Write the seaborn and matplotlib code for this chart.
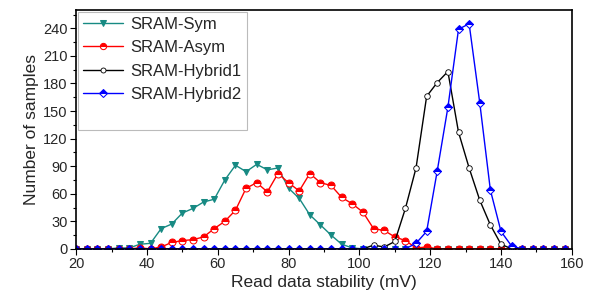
import numpy as np
import pandas as pd
import matplotlib
matplotlib.use("Agg")
import matplotlib.pyplot as plt
from matplotlib.lines import Line2D
import seaborn as sns

sns.set_style("ticks")
plt.rcParams['font.family'] = ['Liberation Sans', 'DejaVu Sans']

# read data stability (mV), one sample every 3 mV
stability = list(range(20, 159, 3))

sram_sym = [0, 0, 0, 0, 1, 1, 5, 6, 22, 27, 39, 44, 51, 54, 75, 91, 84, 92, 86, 88,
            66, 55, 37, 26, 15, 5, 1, 0, 0, 0, 0, 0, 0, 0, 0, 0, 0, 0, 0, 0,
            0, 0, 0, 0, 0, 0, 0]
sram_asym = [0, 0, 0, 0, 0, 0, 1, 0, 2, 7, 9, 10, 13, 22, 30, 42, 66, 72, 62, 82,
             72, 63, 82, 72, 69, 56, 49, 40, 22, 20, 13, 9, 1, 2, 0, 0, 0, 0, 0, 0,
             0, 0, 0, 0, 0, 0, 0]
sram_hybrid1 = [0, 0, 0, 0, 0, 0, 0, 0, 0, 0, 0, 0, 0, 0, 0, 0, 0, 0, 0, 0,
                0, 0, 0, 0, 0, 0, 0, 0, 4, 2, 8, 44, 88, 166, 181, 193, 127, 88, 53, 26,
                5, 0, 0, 0, 0, 0, 0]
sram_hybrid2 = [0, 0, 0, 0, 0, 0, 0, 0, 0, 0, 0, 0, 0, 0, 0, 0, 0, 0, 0, 0,
                0, 0, 0, 0, 0, 0, 0, 0, 0, 0, 0, 0, 6, 19, 85, 154, 239, 245, 159, 64,
                19, 3, 0, 0, 0, 0, 0]

df = pd.DataFrame({
    "x": stability,
    "SRAM-Sym": sram_sym,
    "SRAM-Asym": sram_asym,
    "SRAM-Hybrid1": sram_hybrid1,
    "SRAM-Hybrid2": sram_hybrid2,
})

f = plt.figure(figsize=(5.95, 3.02), dpi=100)
ax = f.add_axes([0.128, 0.176, 0.833, 0.791])

sns.lineplot(data=df, x="x", y="SRAM-Sym", ax=ax, color="#178a83", lw=1,
             marker="v", markersize=5, markeredgecolor="#178a83", label="SRAM-Sym")
sns.lineplot(data=df, x="x", y="SRAM-Asym", ax=ax, color="#ff0000", lw=1,
             marker="o", markersize=5, fillstyle="top", markerfacecoloralt="white",
             markeredgecolor="#ff0000", label="SRAM-Asym")
sns.lineplot(data=df, x="x", y="SRAM-Hybrid1", ax=ax, color="black", lw=1,
             marker="o", markersize=4, markerfacecolor="white", markeredgecolor="black",
             markeredgewidth=0.6, label="SRAM-Hybrid1")
sns.lineplot(data=df, x="x", y="SRAM-Hybrid2", ax=ax, color="#0000ff", lw=1,
             marker="D", markersize=4.5, fillstyle="top", markerfacecoloralt="white",
             markeredgecolor="#0000ff", label="SRAM-Hybrid2")

ax.set_xlim(20, 160)
ax.set_ylim(0, 260)
ax.xaxis.set_major_locator(matplotlib.ticker.MultipleLocator(20))
ax.xaxis.set_minor_locator(matplotlib.ticker.MultipleLocator(10))
ax.yaxis.set_minor_locator(matplotlib.ticker.MultipleLocator(15))
ax.set_yticks(range(0, 241, 30))
ax.tick_params(axis="both", which="major", labelsize=10.5, length=4, width=0.8,
               color="black", pad=2)
ax.tick_params(axis="both", which="minor", length=2.5, width=0.8, color="black")
ax.set_xlabel("Read data stability (mV)", fontsize=12.5, labelpad=3)
ax.set_ylabel("Number of samples", fontsize=12.5, labelpad=3)
for s in ax.spines.values():
    s.set_color("black")
    s.set_linewidth(1.2)

# Origin-style legend box leaves an empty row at the bottom
handles, labels = ax.get_legend_handles_labels()
handles.append(Line2D([], [], color="none"))
labels.append(" ")
leg = ax.legend(handles, labels, loc="upper left", fontsize=12, frameon=True,
                fancybox=False, handlelength=2.4, borderpad=0.3, labelspacing=0.5,
                handletextpad=0.45, borderaxespad=0.12, markerscale=0.9)
leg.get_frame().set_edgecolor("#aaaaaa")
leg.get_frame().set_linewidth(0.8)

f.savefig("out.png", dpi=100)
